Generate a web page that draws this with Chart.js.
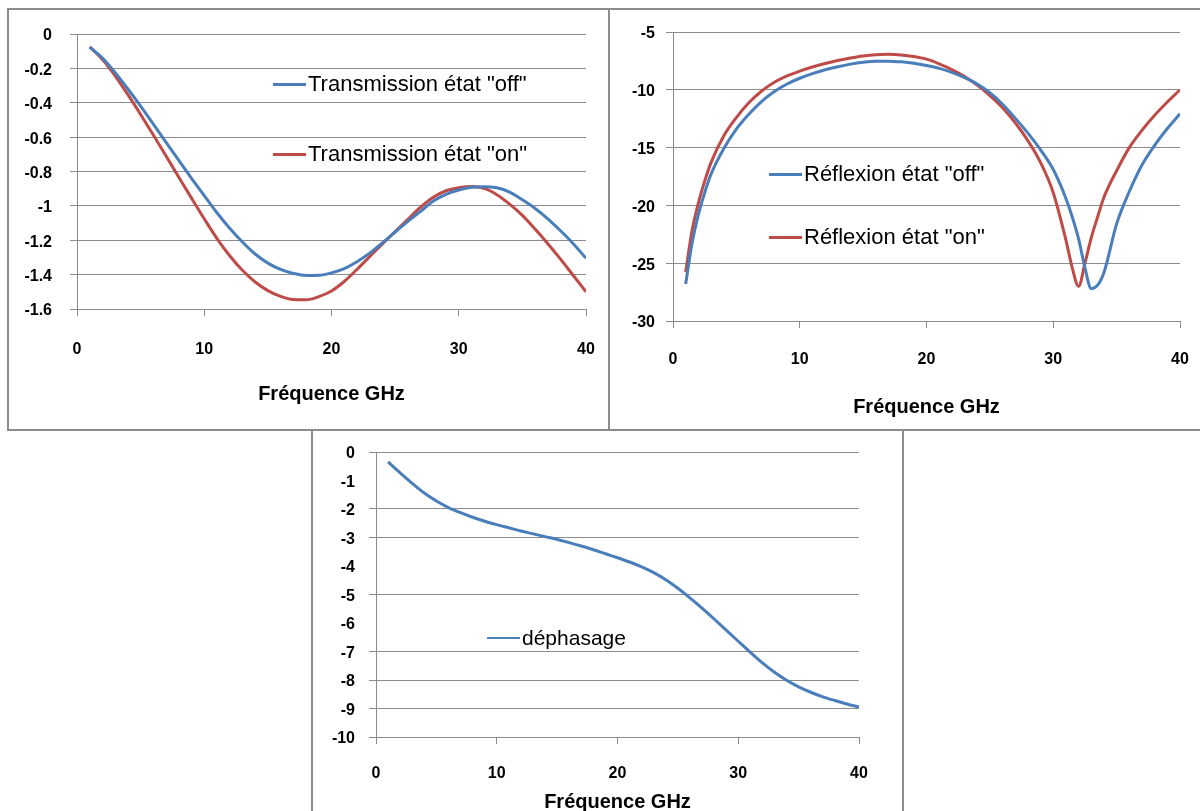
<!DOCTYPE html>
<html>
<head>
<meta charset="utf-8">
<script src="https://cdn.jsdelivr.net/npm/chart.js@4.4.1/dist/chart.umd.min.js"></script>
<style>
  html, body { margin: 0; padding: 0; background: #fff; }
  body { width: 1200px; height: 811px; overflow: hidden; position: relative; font-family: "Liberation Sans", Arial, sans-serif; }
  .panel { position: absolute; box-sizing: border-box; border: 2px solid #8c8c8c; background: #fff; overflow: hidden; }
  .panel canvas { position: absolute; left: 0; top: 0; }
  .leg { position: absolute; transform: translateY(-50%); display: flex; align-items: center; color: #000; white-space: nowrap; line-height: 26px; }
  .leg .sw { display: inline-block; width: 33px; margin-right: 2px; }
</style>
</head>
<body>
<div class="panel" style="left:7px; top:8px; width:603px; height:423px;"><canvas id="trans" width="599" height="419"></canvas></div>
<div class="panel" style="left:608px; top:8px; width:600px; height:423px;"><canvas id="refl" width="596" height="419"></canvas></div>
<div class="panel" style="left:311px; top:429px; width:593px; height:390px;"><canvas id="phase" width="589" height="386"></canvas></div>
<div id="legends"></div>
<script>
// frequency axis (GHz)
var xTicks = [0, 10, 20, 30, 40];

// transmission (dB)
var freqT = [1, 2, 3, 4, 5, 6, 7, 8, 9, 10, 11, 12, 13, 14, 15, 16, 17, 18, 19, 20,
             21, 22, 23, 24, 25, 26, 27, 28, 29, 30, 31, 32, 33, 34, 35, 36, 37, 38, 39, 40];
var transOff = [-0.076, -0.14, -0.225, -0.32, -0.42, -0.525, -0.63, -0.735, -0.84, -0.94,
                -1.04, -1.13, -1.21, -1.28, -1.333, -1.37, -1.393, -1.405, -1.404, -1.39,
                -1.365, -1.325, -1.275, -1.215, -1.152, -1.09, -1.032, -0.972, -0.933, -0.908,
                -0.892, -0.888, -0.895, -0.92, -0.965, -1.015, -1.075, -1.145, -1.22, -1.305];
var transOn = [-0.075, -0.148, -0.243, -0.353, -0.468, -0.588, -0.71, -0.833, -0.955, -1.075,
               -1.19, -1.29, -1.375, -1.443, -1.493, -1.527, -1.545, -1.546, -1.528, -1.495,
               -1.44, -1.37, -1.295, -1.222, -1.15, -1.078, -1.008, -0.95, -0.912, -0.894,
               -0.887, -0.898, -0.935, -0.99, -1.055, -1.135, -1.22, -1.31, -1.405, -1.5];
var yTicksT = [0, -0.2, -0.4, -0.6, -0.8, -1, -1.2, -1.4, -1.6];

// reflexion (dB)
var freqR = [1, 1.5, 2, 2.5, 3, 4, 5, 6, 7, 8, 9, 10, 11, 12, 13, 14, 15, 16, 17, 18, 19, 20,
             21, 22, 23, 24, 25, 26, 27, 28, 29, 30, 31, 31.5, 32, 32.5, 33, 33.5, 34,
             35, 36, 37, 38, 39, 40];
var reflOff = [-26.8, -23.3, -20.8, -18.9, -17.3, -15.1, -13.4, -12.1, -11.0, -10.15, -9.5, -9.0,
               -8.6, -8.27, -8.0, -7.78, -7.62, -7.53, -7.52, -7.58, -7.7, -7.9,
               -8.15, -8.5, -8.95, -9.5, -10.25, -11.25, -12.45, -13.75, -15.2, -16.9, -19.4,
               -21.0, -22.9, -25.4, -27.2, -26.9, -25.8,
               -21.6, -18.8, -16.5, -14.8, -13.35, -12.08];
var reflOn = [-25.75, -22.2, -19.8, -17.9, -16.3, -14.0, -12.4, -11.1, -10.1, -9.35, -8.8, -8.38,
              -8.03, -7.73, -7.47, -7.25, -7.07, -6.96, -6.93, -6.98, -7.12, -7.35,
              -7.75, -8.25, -8.85, -9.6, -10.5, -11.55, -12.85, -14.4, -16.3, -18.9, -23.0,
              -25.4, -27.0, -25.0, -22.8, -21.0, -19.3,
              -17.0, -15.0, -13.5, -12.2, -11.05, -10.0];
var yTicksR = [-5, -10, -15, -20, -25, -30];

// dephasage
var freqP = freqT;
var phase = [-0.35, -0.73, -1.1, -1.44, -1.72, -1.95, -2.13, -2.29, -2.43, -2.55,
             -2.66, -2.77, -2.87, -2.97, -3.07, -3.18, -3.3, -3.43, -3.57, -3.71,
             -3.86, -4.03, -4.23, -4.48, -4.78, -5.12, -5.48, -5.86, -6.25, -6.64,
             -7.03, -7.4, -7.73, -8.01, -8.24, -8.43, -8.59, -8.72, -8.84, -8.95];
var yTicksP = [0, -1, -2, -3, -4, -5, -6, -7, -8, -9, -10];
var hiddenGridP = [-1, -4, -6];

var BLUE = '#4A7EBB';
var RED = '#BE4B48';
var GRID = '#8c8c8c';
var FONT = '"Liberation Sans", Arial, sans-serif';
var TITLE_SIZE = 20;

function points(xs, ys) {
  return xs.map(function (x, i) { return {x: x, y: ys[i]}; });
}

function lineChart(id, box, yMin, yMax, yTicks, hidden, series) {
  var cv = document.getElementById(id);
  var W = cv.width, H = cv.height;
  var titleBottom = box.titleMid + TITLE_SIZE * 1.2 / 2;
  var tickFont = {family: FONT, size: 16, weight: 'bold'};

  return new Chart(cv.getContext('2d'), {
    type: 'line',
    data: {
      datasets: series.map(function (s) {
        return {
          label: s.label,
          data: points(s.x, s.y),
          borderColor: s.color,
          backgroundColor: s.color,
          borderWidth: s.width,
          pointRadius: 0,
          cubicInterpolationMode: 'monotone',
          fill: false
        };
      })
    },
    options: {
      responsive: false,
      animation: false,
      events: [],
      layout: {padding: {left: 0, top: box.top, right: W - box.right, bottom: H - titleBottom}},
      plugins: {legend: {display: false}, tooltip: {enabled: false}},
      scales: {
        x: {
          type: 'linear', min: 0, max: 40,
          afterBuildTicks: function (s) { s.ticks = xTicks.map(function (v) { return {value: v}; }); },
          afterFit: function (s) {
            s.height = titleBottom - box.bottom;
            s.paddingLeft = 0;
            s.paddingRight = 0;
          },
          grid: {drawOnChartArea: false, tickLength: 7, color: GRID},
          border: {color: GRID},
          ticks: {padding: box.xPad, color: '#000', font: tickFont, maxRotation: 0},
          title: {display: true, text: 'Fréquence GHz', color: '#000', padding: 0,
                  font: {family: FONT, size: TITLE_SIZE, weight: 'bold'}}
        },
        y: {
          min: yMin, max: yMax,
          afterBuildTicks: function (s) { s.ticks = yTicks.map(function (v) { return {value: v}; }); },
          afterFit: function (s) {
            s.width = box.left;
            s.paddingTop = 0;
            s.paddingBottom = 0;
          },
          grid: {
            tickLength: 7,
            color: function (c) { return hidden.indexOf(c.tick && c.tick.value) >= 0 ? 'rgba(0,0,0,0)' : GRID; }
          },
          border: {color: GRID},
          ticks: {
            padding: box.yPad, labelOffset: 2, color: '#000', font: tickFont,
            callback: function (v) { return String(Math.round(v * 10) / 10); }
          }
        }
      }
    }
  });
}

var charts = [
  {
    chart: lineChart('trans', {left: 68, top: 24, right: 577, bottom: 299, titleMid: 384, xPad: 24, yPad: 18},
      -1.6, 0, yTicksT, [], [
        {label: 'Transmission état "off"', x: freqT, y: transOff, color: BLUE, width: 3},
        {label: 'Transmission état "on"', x: freqT, y: transOn, color: RED, width: 3}
      ]),
    legend: {left: 273, tops: [84, 154], size: 22, sw: 3}
  },
  {
    chart: lineChart('refl', {left: 63, top: 22, right: 570, bottom: 311, titleMid: 397, xPad: 22, yPad: 11},
      -30, -5, yTicksR, [], [
        {label: 'Réflexion état "off"', x: freqR, y: reflOff, color: BLUE, width: 3},
        {label: 'Réflexion état "on"', x: freqR, y: reflOn, color: RED, width: 3}
      ]),
    legend: {left: 769, tops: [174, 237], size: 22, sw: 3}
  },
  {
    chart: lineChart('phase', {left: 63, top: 21, right: 546, bottom: 306, titleMid: 371, xPad: 20, yPad: 14},
      -10, 0, yTicksP, hiddenGridP, [
        {label: 'déphasage', x: freqP, y: phase, color: BLUE, width: 3}
      ]),
    legend: {left: 487, tops: [638], size: 21, sw: 2}
  }
];

// legends placed inside the plot areas, built from the dataset labels
var legHost = document.getElementById('legends');
charts.forEach(function (c) {
  c.chart.data.datasets.forEach(function (ds, i) {
    var item = document.createElement('div');
    item.className = 'leg';
    item.style.left = c.legend.left + 'px';
    item.style.top = c.legend.tops[i] + 'px';
    item.style.fontSize = c.legend.size + 'px';
    var sw = document.createElement('span');
    sw.className = 'sw';
    sw.style.height = c.legend.sw + 'px';
    sw.style.background = ds.borderColor;
    item.appendChild(sw);
    item.appendChild(document.createTextNode(ds.label));
    legHost.appendChild(item);
  });
});
</script>
</body>
</html>
